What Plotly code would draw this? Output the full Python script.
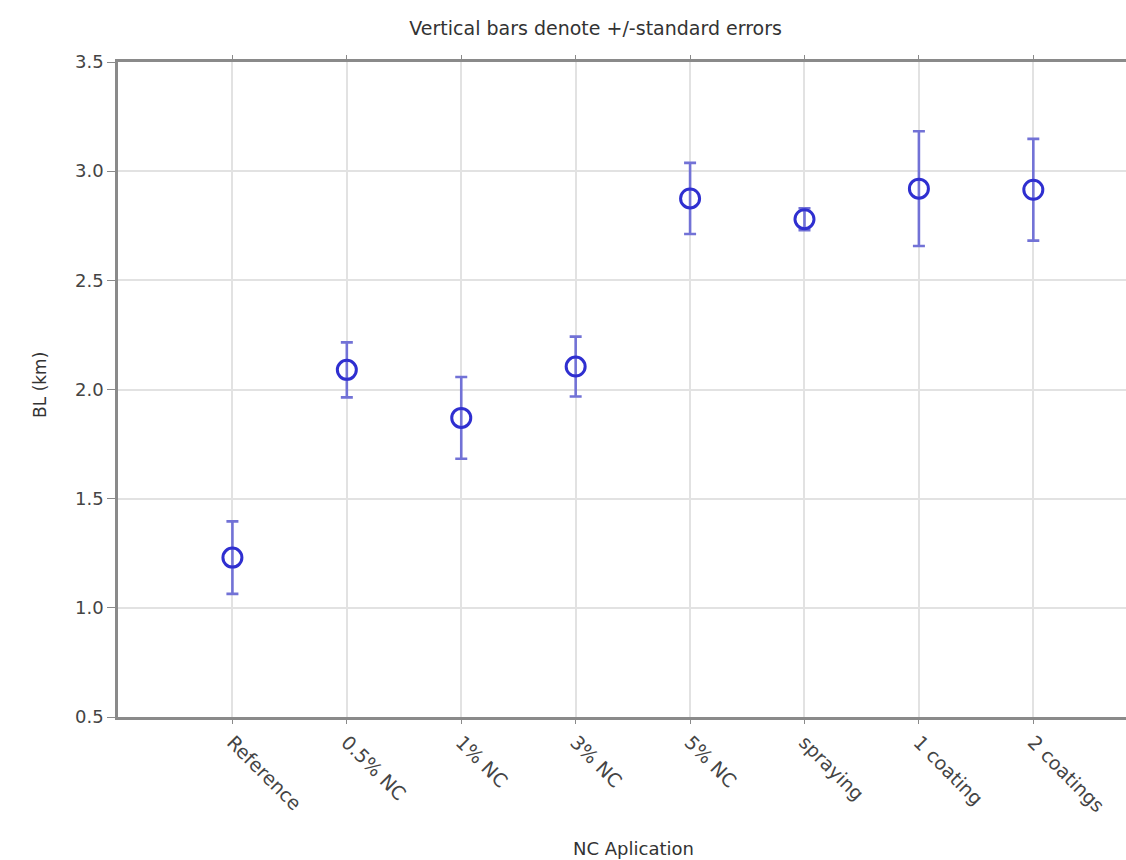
import plotly.graph_objects as go

categories = ["Reference", "0.5% NC", "1% NC", "3% NC", "5% NC", "spraying", "1 coating", "2 coatings"]
means = [1.23, 2.09, 1.87, 2.105, 2.875, 2.78, 2.92, 2.915]
se = [0.166, 0.126, 0.187, 0.137, 0.163, 0.05, 0.263, 0.233]
positions = list(range(1, len(categories) + 1))

fig = go.Figure()
fig.add_trace(go.Scatter(
    x=positions, y=means, mode="markers",
    marker=dict(symbol="circle-open", size=19, color="#2f2fd0", line=dict(width=3, color="#2f2fd0")),
    error_y=dict(type="data", array=se, visible=True, color="#7272d6", thickness=2.6, width=6),
    showlegend=False,
))

font_family = "DejaVu Sans, Verdana, sans-serif"
fig.update_layout(
    width=1126, height=860,
    margin=dict(l=118, r=0, t=62, b=143),
    paper_bgcolor="white", plot_bgcolor="white",
    font=dict(family=font_family, color="#444"),
    title=dict(text="Vertical bars denote +/-standard errors", x=0.529, xref="container", xanchor="center",
               y=1 - 28 / 860, yref="container", yanchor="middle", font=dict(size=19, color="#333")),
)
fig.add_annotation(text="NC Aplication", xref="paper", yref="paper", x=0.511, y=-0.2,
                   xanchor="center", yanchor="middle", showarrow=False, font=dict(size=18, color="#333"))
fig.add_annotation(text="BL (km)", xref="paper", yref="paper", x=-0.0774, y=0.507, textangle=-90,
                   xanchor="center", yanchor="middle", showarrow=False, font=dict(size=17, color="#333"))
fig.update_xaxes(
    range=[0, 8.81], tickvals=positions, ticktext=categories, tickangle=45,
    showgrid=True, gridcolor="#e2e2e2", gridwidth=1.5,
    showline=True, linecolor="#8a8a8a", linewidth=2.5, mirror="ticks",
    ticks="outside", ticklen=4, tickcolor="#8a8a8a", zeroline=False,
    tickfont=dict(size=19, color="#444"),
)
fig.update_yaxes(
    range=[0.5, 3.5], tickvals=[0.5, 1.0, 1.5, 2.0, 2.5, 3.0, 3.5], tickformat=".1f",
    showgrid=True, gridcolor="#e2e2e2", gridwidth=1.5,
    showline=True, linecolor="#8a8a8a", linewidth=2.5,
    ticks="outside", ticklen=8, tickcolor="#8a8a8a", zeroline=False,
    tickfont=dict(size=18, color="#444"),
)
fig.write_html("out.html")
